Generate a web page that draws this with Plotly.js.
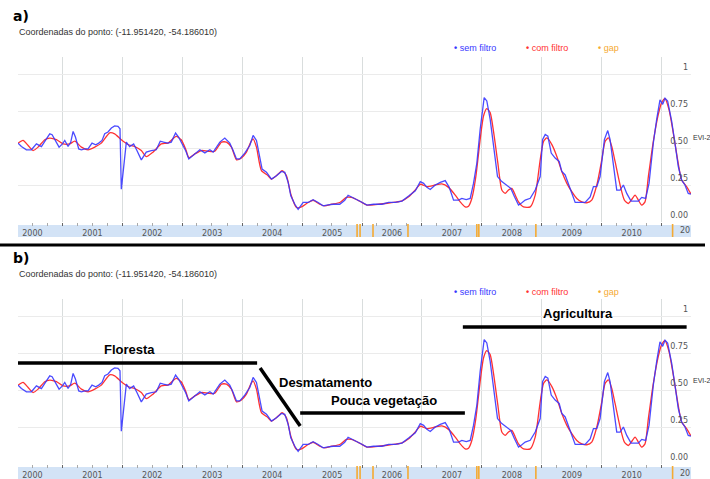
<!DOCTYPE html>
<html><head><meta charset="utf-8">
<script src="https://cdn.plot.ly/plotly-3.0.1.min.js"></script>
<style>html,body{margin:0;padding:0;background:#fff}#c{width:710px;height:479px}</style>
</head><body><div id="c"></div>
<script>
// ---- data (decimal years, EVI-2 values) ----
const t_sem = [2000.261,2000.317,2000.400,2000.483,2000.567,2000.650,2000.733,2000.789,2000.828,2000.883,2000.944,2001.000,2001.039,2001.094,2001.139,2001.178,2001.217,2001.272,2001.317,2001.372,2001.428,2001.494,2001.556,2001.606,2001.661,2001.706,2001.761,2001.817,2001.872,2001.928,2001.961,2001.983,2002.067,2002.122,2002.189,2002.244,2002.317,2002.400,2002.483,2002.567,2002.633,2002.689,2002.761,2002.817,2002.889,2002.939,2002.994,2003.060,2003.110,2003.183,2003.294,2003.378,2003.461,2003.517,2003.628,2003.711,2003.794,2003.850,2003.906,2003.961,2004.044,2004.128,2004.183,2004.239,2004.294,2004.333,2004.406,2004.489,2004.572,2004.656,2004.711,2004.767,2004.811,2004.878,2004.933,2005.017,2005.100,2005.183,2005.267,2005.350,2005.433,2005.517,2005.628,2005.711,2005.767,2005.822,2005.878,2005.965,2006.083,2006.194,2006.333,2006.444,2006.556,2006.667,2006.778,2006.889,2006.972,2007.028,2007.083,2007.139,2007.222,2007.306,2007.389,2007.456,2007.528,2007.611,2007.667,2007.739,2007.806,2007.861,2007.917,2007.972,2008.039,2008.083,2008.139,2008.194,2008.261,2008.333,2008.417,2008.483,2008.544,2008.611,2008.667,2008.722,2008.806,2008.889,2008.972,2009.011,2009.056,2009.100,2009.156,2009.222,2009.289,2009.333,2009.389,2009.444,2009.500,2009.556,2009.639,2009.722,2009.806,2009.861,2009.917,2009.972,2010.044,2010.100,2010.139,2010.194,2010.250,2010.306,2010.361,2010.417,2010.489,2010.556,2010.611,2010.667,2010.733,2010.789,2010.861,2010.917,2010.972,2011.017,2011.056,2011.100,2011.167,2011.222,2011.278,2011.333,2011.389,2011.444,2011.489];
const v_sem = [0.533,0.510,0.488,0.488,0.528,0.510,0.562,0.596,0.590,0.551,0.506,0.528,0.551,0.510,0.540,0.612,0.574,0.494,0.488,0.494,0.494,0.533,0.522,0.533,0.551,0.596,0.608,0.635,0.649,0.646,0.630,0.222,0.540,0.510,0.528,0.483,0.420,0.472,0.483,0.488,0.546,0.540,0.533,0.540,0.601,0.574,0.533,0.480,0.426,0.449,0.488,0.467,0.488,0.472,0.540,0.567,0.533,0.483,0.426,0.426,0.465,0.517,0.585,0.551,0.426,0.358,0.336,0.290,0.313,0.342,0.336,0.268,0.177,0.120,0.086,0.132,0.132,0.150,0.132,0.109,0.116,0.120,0.120,0.147,0.181,0.170,0.161,0.140,0.114,0.120,0.120,0.132,0.132,0.141,0.175,0.211,0.273,0.261,0.234,0.220,0.250,0.268,0.280,0.234,0.148,0.148,0.159,0.152,0.159,0.261,0.398,0.625,0.841,0.818,0.693,0.511,0.307,0.273,0.250,0.227,0.170,0.114,0.130,0.148,0.160,0.216,0.307,0.557,0.591,0.580,0.466,0.432,0.409,0.341,0.318,0.261,0.193,0.132,0.132,0.132,0.170,0.239,0.239,0.307,0.557,0.618,0.557,0.375,0.216,0.216,0.250,0.193,0.141,0.141,0.141,0.166,0.159,0.261,0.534,0.693,0.825,0.795,0.836,0.818,0.682,0.534,0.375,0.284,0.250,0.193,0.189];
const t_com = [2000.261,2000.344,2000.428,2000.511,2000.594,2000.706,2000.789,2000.900,2001.011,2001.122,2001.206,2001.317,2001.428,2001.539,2001.650,2001.789,2001.872,2001.983,2002.094,2002.206,2002.317,2002.400,2002.511,2002.650,2002.761,2002.900,2002.983,2003.060,2003.110,2003.211,2003.322,2003.433,2003.544,2003.656,2003.739,2003.822,2003.906,2003.989,2004.072,2004.144,2004.183,2004.239,2004.322,2004.433,2004.489,2004.600,2004.667,2004.739,2004.811,2004.906,2004.989,2005.100,2005.183,2005.294,2005.378,2005.489,2005.628,2005.739,2005.822,2005.965,2006.083,2006.222,2006.389,2006.556,2006.667,2006.778,2006.889,2006.972,2007.083,2007.222,2007.333,2007.444,2007.556,2007.639,2007.722,2007.778,2007.833,2007.900,2007.972,2008.028,2008.083,2008.139,2008.194,2008.267,2008.333,2008.389,2008.444,2008.500,2008.556,2008.611,2008.694,2008.806,2008.889,2008.972,2009.028,2009.083,2009.167,2009.250,2009.333,2009.417,2009.500,2009.583,2009.667,2009.750,2009.833,2009.917,2010.000,2010.056,2010.111,2010.167,2010.222,2010.306,2010.378,2010.444,2010.500,2010.556,2010.611,2010.667,2010.722,2010.778,2010.861,2010.944,2011.000,2011.056,2011.122,2011.194,2011.267,2011.333,2011.417,2011.489];
const v_com = [0.533,0.551,0.517,0.483,0.506,0.556,0.567,0.556,0.528,0.528,0.546,0.506,0.488,0.506,0.533,0.603,0.596,0.556,0.524,0.510,0.483,0.442,0.472,0.528,0.533,0.578,0.556,0.490,0.435,0.460,0.483,0.478,0.478,0.540,0.540,0.506,0.420,0.433,0.472,0.540,0.562,0.506,0.347,0.313,0.290,0.324,0.347,0.313,0.188,0.098,0.102,0.132,0.147,0.120,0.109,0.120,0.132,0.166,0.166,0.140,0.114,0.118,0.125,0.134,0.143,0.170,0.216,0.255,0.239,0.250,0.257,0.234,0.182,0.136,0.102,0.107,0.159,0.307,0.557,0.716,0.766,0.739,0.614,0.398,0.216,0.193,0.216,0.227,0.182,0.136,0.102,0.102,0.182,0.420,0.545,0.568,0.523,0.443,0.341,0.261,0.205,0.159,0.136,0.130,0.148,0.250,0.420,0.545,0.568,0.511,0.409,0.250,0.148,0.125,0.152,0.182,0.148,0.114,0.136,0.307,0.545,0.727,0.807,0.834,0.761,0.602,0.420,0.284,0.239,0.189];
const gapYears = [2005.917,2005.967,2006.183,2006.767,2007.917,2007.950,2008.900,2011.183];
const yTickVals = [0,0.25,0.5,0.75,1];
const yTickText = ['0.00','0.25','0.50','0.75','1'];
const xRangeYears = [2000.26,2011.49];
const seriesNames = ['sem filtro','com filtro','gap'];
const coordText = 'Coordenadas do ponto: (-11.951420, -54.186010)';
// phases in panel b
const phaseLabels = ['Floresta','Desmatamento','Pouca vegetação','Agricultura'];

function yr(d){const y=Math.floor(d);const s=Date.UTC(y,0,1),e=Date.UTC(y+1,0,1);
  return new Date(s+(d-y)*(e-s)).toISOString().slice(0,19).replace('T',' ');}

const W=710,H=479;
const px=x=>x/W, py=y=>1-y/H;
const BLUE='rgb(55,55,255)', RED='rgb(255,50,50)', ORANGE='rgb(245,170,50)';

const traces=[];
[['x','y'],['x2','y2']].forEach(([xa,ya])=>{
  traces.push({x:t_com.map(yr),y:v_com,xaxis:xa,yaxis:ya,mode:'lines',name:seriesNames[1],
    line:{color:RED,width:1.3,shape:'spline',smoothing:0.6},hoverinfo:'skip'});
  traces.push({x:t_sem.map(yr),y:v_sem,xaxis:xa,yaxis:ya,mode:'lines',name:seriesNames[0],
    line:{color:BLUE,width:1.3},opacity:0.9,hoverinfo:'skip'});
});

const fontAx={family:'DejaVu Sans, Verdana, sans-serif',size:8,color:'#555'};
function xax(anchor){return {domain:[px(18),px(691)],anchor:anchor,type:'date',
  range:xRangeYears.map(yr),dtick:'M12',tick0:'2000-01-01',ticklabelmode:'period',tickformat:'%Y',
  ticks:'outside',ticklen:3,tickcolor:'#666',tickwidth:1,showgrid:true,gridcolor:'#d9dddd',
  minor:{dtick:'M3',tick0:'2000-01-01',ticks:'outside',ticklen:3,tickcolor:'#aaa',showgrid:false},
  tickfont:fontAx,showline:false,zeroline:false,fixedrange:true};}
function yax(anchor,top,bot){return {domain:[py(bot),py(top)],anchor:anchor,range:[0,1.115],side:'right',
  tickvals:yTickVals,ticktext:yTickText,ticklabelposition:'inside',ticks:'',ticklabelshift:-7,
  gridcolor:'#ebebeb',tickfont:fontAx,zeroline:false,showline:false,fixedrange:true};}

const panels=[{off:0,xr:'x',yr:'y',lab:'a)'},{off:242,xr:'x2',yr:'y2',lab:'b)'}];
const shapes=[], ann=[];
panels.forEach(p=>{
  const o=p.off;
  shapes.push({type:'rect',xref:'paper',yref:'paper',x0:px(18),x1:px(691),y0:py(225+o),y1:py(237+o),
    fillcolor:'#d3e3f6',line:{width:0},layer:'below'});
  gapYears.forEach(g=>shapes.push({type:'line',xref:p.xr,yref:'paper',x0:yr(g),x1:yr(g),
    y0:py(224+o),y1:py(237+o),line:{color:ORANGE,width:1.6},layer:'below'}));
  ann.push({xref:'paper',yref:'paper',x:px(11),y:py(16+o),xanchor:'left',yanchor:'middle',
    text:'<b>'+p.lab+'</b>',showarrow:false,font:{family:'DejaVu Sans, Verdana',size:14,color:'#000'}});
  ann.push({xref:'paper',yref:'paper',x:px(17),y:py(32+o),xanchor:'left',yanchor:'middle',
    text:coordText,showarrow:false,font:{family:'Liberation Sans, Arial',size:9,color:'#333'}});
  const ly=48+o+(p.off?2:0);
  [[452,BLUE,seriesNames[0]],[524,RED,seriesNames[1]],[596,ORANGE,seriesNames[2]]].forEach(([x,c,t])=>{
    ann.push({xref:'paper',yref:'paper',x:px(x),y:py(ly),xanchor:'left',yanchor:'middle',
      text:'<b>•</b> '+t,showarrow:false,font:{family:'Liberation Sans, Arial',size:9,color:c}});
  });
  ann.push({xref:'paper',yref:'paper',x:px(691),y:py(138+o),xanchor:'left',yanchor:'middle',
    text:'EVI-2',showarrow:false,font:{family:'Liberation Sans, Arial',size:7,color:'#333'}});
  ann.push({xref:'paper',yref:'paper',x:px(678),y:py(231+o),xanchor:'left',yanchor:'middle',
    text:'20',showarrow:false,font:fontAx});
});
// separator
shapes.push({type:'line',xref:'paper',yref:'paper',x0:0,x1:px(705),y0:py(245),y1:py(245),line:{color:'#000',width:3}});
// panel b phase markers (in data coords)
const K={color:'#000',width:3.5};
shapes.push({type:'line',xref:'x2',yref:'y2',x0:yr(2000.25),x1:yr(2004.25),y0:0.682,y1:0.682,line:K});
shapes.push({type:'line',xref:'x2',yref:'y2',x0:yr(2004.30),x1:yr(2004.967),y0:0.649,y1:0.257,line:K});
shapes.push({type:'line',xref:'x2',yref:'y2',x0:yr(2004.967),x1:yr(2007.717),y0:0.345,y1:0.345,line:K});
shapes.push({type:'line',xref:'x2',yref:'y2',x0:yr(2007.683),x1:yr(2011.417),y0:0.926,y1:0.926,line:K});
const fB={family:'Liberation Sans, Arial',size:13,color:'#000'};
[[2002.117,0.777,0],[2005.383,0.554,1],[2006.367,0.426,2],[2009.6,1.02,3]].forEach(([x,y,i])=>{
  ann.push({xref:'x2',yref:'y2',x:yr(x),y:y,text:'<b>'+phaseLabels[i]+'</b>',showarrow:false,font:fB,xanchor:'center',yanchor:'middle'});
});

const layout={width:W,height:H,margin:{l:0,r:0,t:0,b:0},paper_bgcolor:'#fff',plot_bgcolor:'rgba(0,0,0,0)',
  showlegend:false,xaxis:xax('y'),xaxis2:xax('y2'),yaxis:yax('x',57,222),yaxis2:yax('x2',299,464),
  shapes:shapes,annotations:ann};
Plotly.newPlot('c',traces,layout,{staticPlot:true,displayModeBar:false});
</script></body></html>
